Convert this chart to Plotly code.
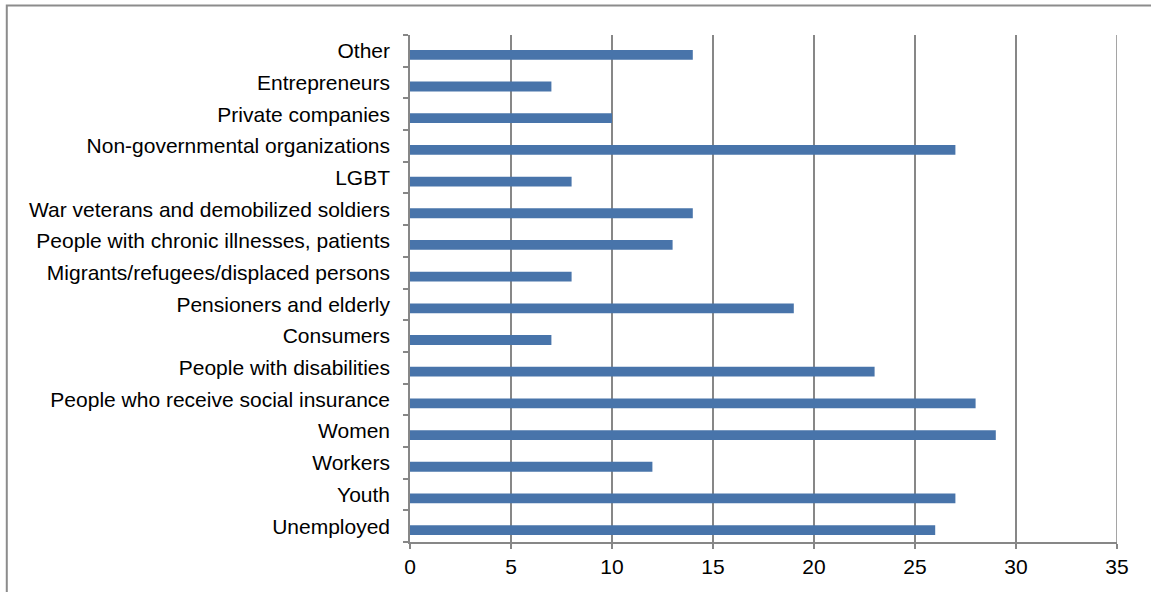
import plotly.graph_objects as go

# Categories listed bottom to top
groups = [
    "Unemployed",
    "Youth",
    "Workers",
    "Women",
    "People who receive social insurance",
    "People with disabilities",
    "Consumers",
    "Pensioners and elderly",
    "Migrants/refugees/displaced persons",
    "People with chronic illnesses, patients",
    "War veterans and demobilized soldiers",
    "LGBT",
    "Non-governmental organizations",
    "Private companies",
    "Entrepreneurs",
    "Other",
]
counts = [26, 27, 12, 29, 28, 23, 7, 19, 8, 13, 14, 8, 27, 10, 7, 14]
x_ticks = [0, 5, 10, 15, 20, 25, 30, 35]

BAR = "#4874AA"
GRID = "#878787"

fig = go.Figure(
    go.Bar(
        x=counts,
        y=groups,
        orientation="h",
        marker=dict(color=BAR, line=dict(width=0)),
        width=0.31,
        offset=-0.28,
        hoverinfo="x+y",
    )
)

fig.update_layout(
    width=1151,
    height=592,
    margin=dict(l=409.5, r=34, t=35, b=50),
    paper_bgcolor="white",
    plot_bgcolor="white",
    showlegend=False,
    font=dict(family="Liberation Sans, Arial, sans-serif", size=21, color="#000000"),
    xaxis=dict(
        range=[0, 35],
        tickvals=x_ticks,
        ticktext=[str(v) for v in x_ticks],
        showgrid=True,
        gridcolor=GRID,
        gridwidth=1.5,
        zeroline=False,
        showline=True,
        linecolor=GRID,
        linewidth=1.5,
        ticks="outside",
        ticklen=5,
        tickcolor=GRID,
        tickwidth=1.5,
        fixedrange=True,
    ),
    yaxis=dict(
        categoryorder="array",
        categoryarray=groups,
        range=[-0.5, len(groups) - 0.5],
        showgrid=False,
        zeroline=False,
        showline=True,
        linecolor=GRID,
        linewidth=1.5,
        ticks="outside",
        tickson="boundaries",
        ticklen=5,
        tickcolor=GRID,
        tickwidth=1.5,
        ticklabelstandoff=14,
        fixedrange=True,
    ),
    shapes=[
        # gridline at the right end of the value axis
        dict(
            type="line",
            xref="x",
            yref="paper",
            x0=35,
            x1=35,
            y0=0,
            y1=1,
            line=dict(color=GRID, width=1.5),
            layer="below",
        ),
        # chart frame
        dict(
            type="rect",
            xref="paper",
            yref="paper",
            x0=(6 - 409.5) / 707.5,
            x1=1.2,
            y0=-0.3,
            y1=(542 - 5.5) / 507,
            line=dict(color="#8c8c8c", width=2),
            fillcolor="rgba(0,0,0,0)",
            layer="below",
        ),
    ],
)

fig.write_html("out.html")
